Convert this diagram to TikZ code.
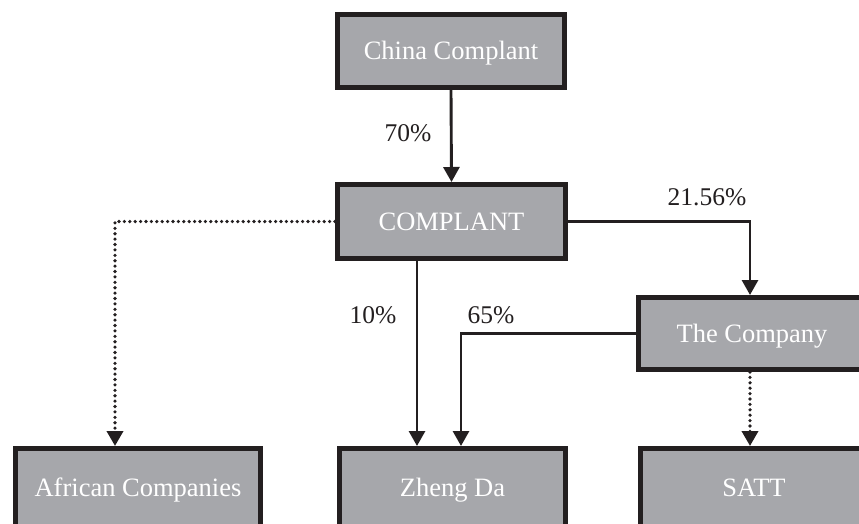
\documentclass[tikz,border=0pt]{standalone}
\usepackage{fontspec}
\setmainfont{Liberation Serif}
\usetikzlibrary{arrows.meta}
\definecolor{boxgray}{HTML}{A6A7AB}
\definecolor{ink}{HTML}{231F20}
\tikzset{
  box/.style={draw=ink, fill=boxgray, line width=5pt, rectangle, inner sep=0pt,
    text=white, text height=17.5pt, text depth=0pt, font=\fontsize{26.5}{30}\selectfont},
  lbl/.style={text=ink, inner sep=0pt, text height=17pt, text depth=0pt, font=\fontsize{25.5}{30}\selectfont},
  conn/.style={draw=ink, line width=2.9pt, -{Triangle[width=16pt,length=15pt]}},
  dotconn/.style={draw=ink, line width=3.6pt, line cap=round, dash pattern=on 0pt off 5.4pt,
    -{Triangle[width=16pt,length=15pt]}}
}
\begin{document}
\begin{tikzpicture}[x=1pt,y=-1pt]
\useasboundingbox (0,0) rectangle (859,523);
\clip (0,0) rectangle (859,523);
\node[box, minimum width=227pt, minimum height=73pt] (china) at (451,51) {China Complant};
\node[box, minimum width=228pt, minimum height=74pt] (complant) at (451.5,221.5) {COMPLANT};
\node[box, minimum width=227pt, minimum height=72pt] (company) at (752,333.5) {The Company};
\node[box, minimum width=245pt, minimum height=79pt] (african) at (138,488) {African Companies};
\node[box, minimum width=226pt, minimum height=79pt] (zhengda) at (452.5,488) {Zheng Da};
\node[box, minimum width=227pt, minimum height=79pt] (satt) at (754,488) {SATT};

\coordinate (xa) at (115,0);
\coordinate (xz1) at (417,0);
\coordinate (xz2) at (461,0);
\coordinate (xc) at (750,0);

\draw[conn] (china.south) -- (complant.north);
\draw[dotconn] (complant.west) -| (african.north -| xa);
\draw[conn] (complant.south -| xz1) -- (zhengda.north -| xz1);
\draw[conn] (company.west) -| (zhengda.north -| xz2);
\draw[conn] (complant.east) -| (company.north -| xc);
\draw[dotconn] (company.south -| xc) -- (satt.north -| xc);

\node[lbl] (l70) at (408,133) {70\%};
\node[lbl] (l2156) at (707,197) {21.56\%};
\node[lbl] (l10) at (373,315) {10\%};
\node[lbl] (l65) at (491,315) {65\%};
\end{tikzpicture}
\end{document}
